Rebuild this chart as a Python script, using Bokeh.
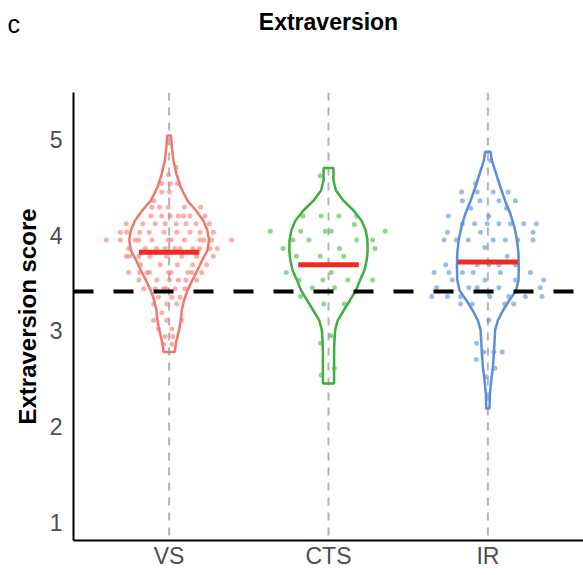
from bokeh.plotting import figure
from bokeh.models import Span, Title, FixedTicker, Range1d
from bokeh.embed import file_html
from bokeh.resources import INLINE

# ---------------- data ----------------
categories = ["VS", "CTS", "IR"]
line_colors = ["#F0776C", "#3DAF3D", "#5B8ED8"]
point_colors = ["#F8766D", "#45B845", "#5B8ED8"]
medians = [3.82, 3.69, 3.72]
reference_line = 3.41
y_ticks = [1, 2, 3, 4, 5]

# violin outlines: score levels and half-widths (in x units)
vs_violin_y = [5.04, 4.92, 4.78, 4.64, 4.50, 4.36, 4.26, 4.15, 4.05, 3.95, 3.84, 3.74, 3.63,
               3.53, 3.42, 3.32, 3.21, 3.11, 3.01, 2.90, 2.80, 2.78]
vs_violin_hw = [0.0125, 0.017, 0.027, 0.046, 0.073, 0.115, 0.167, 0.215, 0.24, 0.25, 0.24, 0.208,
                0.177, 0.146, 0.115, 0.094, 0.079, 0.073, 0.0625, 0.046, 0.036, 0.036]
cts_violin_y = [4.70, 4.57, 4.47, 4.36, 4.26, 4.15, 4.05, 3.95, 3.84, 3.74, 3.63, 3.53, 3.42,
                3.32, 3.21, 3.11, 3.01, 2.90, 2.80, 2.63, 2.45]
cts_violin_hw = [0.031, 0.031, 0.046, 0.094, 0.156, 0.208, 0.233, 0.244, 0.246, 0.24, 0.225,
                 0.198, 0.171, 0.135, 0.094, 0.058, 0.042, 0.0375, 0.035, 0.035, 0.035]
ir_violin_y = [4.87, 4.78, 4.64, 4.50, 4.36, 4.22, 4.08, 3.95, 3.81, 3.67, 3.53, 3.42, 3.32,
               3.21, 3.11, 3.01, 2.90, 2.76, 2.62, 2.48, 2.34, 2.19]
ir_violin_hw = [0.017, 0.025, 0.052, 0.079, 0.108, 0.142, 0.167, 0.183, 0.192, 0.194, 0.192,
                0.177, 0.135, 0.094, 0.0625, 0.046, 0.042, 0.0375, 0.031, 0.021, 0.0125, 0.0104]

# individual scores, row by row: (score, horizontal jitter offsets)
vs_rows = [
    (4.71, [0.044]), (4.63, [-0.004]), (4.54, [-0.046, 0.006, 0.052]), (4.45, [-0.046, 0.002]),
    (4.36, [-0.098]), (4.29, [-0.108, -0.06, -0.004, 0.096, 0.198]),
    (4.20, [-0.115, -0.046, 0.006, 0.058, 0.09, 0.131, 0.225]),
    (4.12, [-0.269, -0.165, -0.0875, -0.025, 0.044, 0.106, 0.169, 0.252]),
    (4.03, [-0.306, -0.265, -0.185, -0.125, -0.031, 0.048, 0.131, 0.194, 0.277]),
    (3.95, [-0.394, -0.306, -0.2125, -0.19, -0.108, -0.004, 0.0125, 0.096, 0.194, 0.219, 0.267, 0.392]),
    (3.86, [-0.254, -0.15, -0.08, -0.025, 0.0375, 0.069, 0.148, 0.19, 0.256, 0.302]),
    (3.78, [-0.269, -0.248, -0.19, -0.12, -0.015, 0.079, 0.173, 0.277]),
    (3.69, [-0.18, -0.056, 0.052, 0.148, 0.235]),
    (3.61, [-0.254, -0.185, -0.14, -0.123, -0.004, 0.0125, 0.117, 0.142, 0.204]),
    (3.53, [-0.19, -0.077, 0.002, 0.058, 0.106, 0.173]),
    (3.44, [-0.16, -0.0875, -0.035, -0.019, 0.0375, 0.1]),
    (3.35, [-0.067, 0.017, 0.069]), (3.28, [-0.098, -0.015, 0.048]), (3.19, [-0.046]),
    (3.11, [-0.098, -0.015, 0.079]), (3.02, [-0.067, 0.017]), (2.94, [-0.025, 0.023]),
    (2.86, [-0.035, 0.017]),
]
cts_rows = [
    (4.62, [-0.052]), (4.20, [-0.16, -0.046, 0.065, 0.177]), (4.11, [0.1625]),
    (4.04, [-0.365, -0.175, -0.021, 0.017, 0.356]), (3.95, [-0.223, -0.123, 0.177, 0.277]),
    (3.86, [-0.285, 0.069, 0.292]), (3.78, [-0.202, -0.052, 0.096]), (3.61, [-0.265, 0.017]),
    (3.53, [-0.185, -0.035, 0.121, 0.277]), (3.45, [-0.102, 0.0375]), (3.36, [-0.175]),
    (3.28, [-0.029, 0.1]), (2.95, [0.017]), (2.87, [-0.05]), (2.61, [0.0375]), (2.54, [-0.046]),
]
ir_rows = [
    (4.78, [0.017]), (4.54, [-0.077]), (4.45, [-0.165, -0.067, 0.033, 0.127]),
    (4.36, [-0.16, -0.05, 0.069, 0.173]), (4.28, [-0.108, 0.117]), (4.20, [-0.248, 0.006]),
    (4.12, [-0.16, -0.083, -0.004, 0.069, 0.142, 0.225, 0.304]), (4.03, [-0.254, -0.046, 0.283]),
    (3.95, [-0.275, -0.198, -0.123, 0.033, 0.11, 0.1875, 0.283]), (3.87, [-0.019]), (3.78, [0.121]),
    (3.69, [-0.265, -0.067, 0.006, 0.069, 0.173]),
    (3.61, [-0.3375, -0.244, -0.16, -0.092, 0.079, 0.267]),
    (3.53, [-0.223, -0.019, 0.173, 0.35]), (3.45, [-0.321, -0.119, -0.067, 0.069, 0.329]),
    (3.36, [-0.352, -0.254, -0.171, 0.0125, 0.131, 0.235, 0.34]),
    (3.28, [-0.171, -0.098, 0.106, 0.1625]), (3.11, [0.006]), (2.87, [-0.071]),
    (2.78, [-0.025, 0.0375, 0.09]), (2.70, [-0.073]), (2.61, [0.044]), (2.52, [-0.01]),
]

violins = [(vs_violin_y, vs_violin_hw), (cts_violin_y, cts_violin_hw), (ir_violin_y, ir_violin_hw)]
rows_all = [vs_rows, cts_rows, ir_rows]

# ---------------- figure ----------------
FONT = "Liberation Sans"
p = figure(width=583, height=575, x_range=Range1d(0.4, 3.6), y_range=Range1d(0.81, 5.49),
           output_backend="svg", toolbar_location=None,
           min_border_left=73, min_border_right=0, min_border_top=92, min_border_bottom=35)
p.grid.visible = False
p.outline_line_color = None
p.background_fill_color = "white"
p.border_fill_color = "white"

# title block: an empty spacer next to the frame, then the title, then the panel tag
spacer = Title(text=" ", text_font_size="2px", standoff=54)
t_main = Title(text="Extraversion", align="center", text_font=FONT, text_font_size="23px",
               text_font_style="bold", text_color="black", standoff=0)
t_tag = Title(text="c", align="left", offset=-66, text_font=FONT, text_font_size="25px",
              text_font_style="normal", text_color="black", standoff=-62)
p.add_layout(spacer, "above")
p.add_layout(t_main, "above")
p.add_layout(t_tag, "above")

positions = [i + 1 for i in range(len(categories))]

# category guide lines
for pos in positions:
    p.add_layout(Span(location=pos, dimension="height", line_color="#B3B3B3",
                      line_width=2, line_dash="8 7", level="underlay"))

for i, pos in enumerate(positions):
    vy, hw = violins[i]
    xs = [pos + h for h in hw] + [pos - h for h in reversed(hw)]
    ys = list(vy) + list(reversed(vy))
    p.patch(xs, ys, fill_color=None, line_color=line_colors[i], line_width=2.5)

    px, py = [], []
    for score, offs in rows_all[i]:
        for o in offs:
            px.append(pos + o)
            py.append(score)
    p.scatter(px, py, size=5, fill_color=point_colors[i], line_color=None, fill_alpha=0.6)

    p.segment(x0=[pos - 0.19], x1=[pos + 0.19], y0=[medians[i]], y1=[medians[i]],
              line_color="#EE2A24", line_width=5)

p.add_layout(Span(location=reference_line, dimension="width", line_color="black",
                  line_width=4, line_dash="20 20"))

# axes
for ax in (p.xaxis[0], p.yaxis[0]):
    ax.axis_line_color = "black"
    ax.axis_line_width = 2
    ax.major_tick_line_color = None
    ax.minor_tick_line_color = None
    ax.major_tick_in = 0
    ax.major_tick_out = 0
    ax.major_label_text_font = FONT
    ax.major_label_text_font_size = "23px"
    ax.major_label_text_color = "#4D4D4D"

p.xaxis.ticker = FixedTicker(ticks=positions)
p.xaxis.major_label_overrides = {pos: c for pos, c in zip(positions, categories)}
p.xaxis.major_label_standoff = 2

p.yaxis.ticker = FixedTicker(ticks=y_ticks)
p.yaxis.major_label_standoff = 11
p.yaxis.axis_label = "Extraversion score"
p.yaxis.axis_label_text_font = FONT
p.yaxis.axis_label_text_font_size = "24px"
p.yaxis.axis_label_text_font_style = "bold"
p.yaxis.axis_label_text_color = "black"
p.yaxis.axis_label_standoff = 6

open("out.html", "w").write(file_html(p, INLINE))
